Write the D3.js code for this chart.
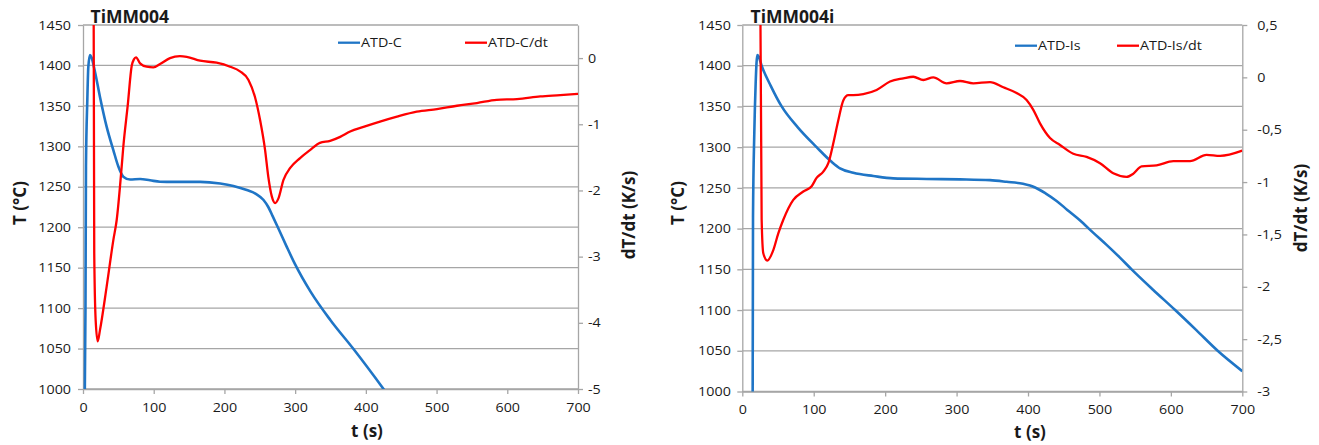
<!DOCTYPE html>
<html><head><meta charset="utf-8">
<script src="https://cdn.jsdelivr.net/npm/d3@7"></script>
<style>body{margin:0;background:#fff}svg{display:block}text{font-family:"Open Sans",sans-serif}</style>
</head><body><svg id="c" width="1319" height="445"></svg>
<script>
// ---- tick values ----
const timeTicks = [0, 100, 200, 300, 400, 500, 600, 700];
const tempTicks = [1000, 1050, 1100, 1150, 1200, 1250, 1300, 1350, 1400, 1450];
const rateTicksC = [-5, -4, -3, -2, -1, 0];
const rateTicksIs = [-3, -2.5, -2, -1.5, -1, -0.5, 0, 0.5];

// ---- chart titles and series names ----
const chartTitles = ["TiMM004", "TiMM004i"];
const seriesC = ["ATD-C", "ATD-C/dt"];
const seriesIs = ["ATD-Is", "ATD-Is/dt"];

// ---- TiMM004 : ATD-C temperature (°C) ----
const timeC = [2.5, 3.5, 4.2, 6.1, 7.5, 9.9, 12, 17, 24, 33.5, 43, 50, 57, 66.5, 80.7, 94.8, 109, 128, 165.6, 194, 212.7, 231.6, 245, 255, 262, 268, 276, 288, 300, 322, 350, 382, 425, 435];
const tempC = [990, 1100, 1275, 1357, 1398, 1413, 1410, 1392, 1361, 1324, 1295, 1275, 1262.5, 1259, 1259.6, 1258, 1256.3, 1256, 1256, 1254, 1251, 1246, 1241, 1234, 1225, 1214, 1199, 1176, 1154, 1120, 1085, 1050, 1000, 988];

// ---- TiMM004 : ATD-C/dt (K/s) ----
const timeCdt = [15, 15.9, 17.9, 20.8, 24, 33.5, 42.9, 47.6, 54.7, 57, 63.2, 68.9, 72, 75, 80.7, 90, 99.5, 109, 123, 137, 146.7, 165.6, 189, 208, 222, 234, 243, 250.5, 257.5, 262, 267, 271.7, 276.4, 283.5, 293, 307, 321, 335, 349.5, 363.7, 377.8, 396.7, 420, 444, 472, 500.5, 528.8, 557, 585, 613.7, 646.7, 675, 700];
const rateCdt = [1.0, -2.95, -3.96, -4.28, -4.11, -3.45, -2.75, -2.45, -1.64, -1.34, -0.72, -0.115, -0.02, 0.01, -0.08, -0.13, -0.14, -0.09, 0, 0.03, 0.02, -0.04, -0.07, -0.13, -0.2, -0.33, -0.58, -0.94, -1.39, -1.79, -2.09, -2.19, -2.12, -1.84, -1.66, -1.51, -1.39, -1.28, -1.25, -1.19, -1.11, -1.04, -0.96, -0.885, -0.81, -0.77, -0.72, -0.68, -0.63, -0.62, -0.58, -0.56, -0.54];

// ---- TiMM004i : ATD-Is temperature (°C) ----
const timeIs = [14.5, 15, 16.8, 18.7, 21, 23, 27.1, 40, 55.1, 78, 104, 125, 136.8, 155.4, 183.4, 211.4, 258, 304.8, 346.8, 370, 393, 410, 425, 440, 455, 473, 490, 510, 528, 545, 575, 606, 636, 665.5, 700];
const tempIs = [990, 1215, 1317, 1378, 1413, 1411, 1400, 1375, 1350, 1324, 1300, 1282, 1274, 1268.6, 1264.6, 1261.7, 1261, 1260.5, 1259.5, 1257.5, 1255, 1250.5, 1243, 1234, 1223, 1210, 1196, 1180, 1165, 1150, 1125, 1100, 1075, 1050, 1025];

// ---- TiMM004i : ATD-Is/dt (K/s) ----
const timeIsdt = [25, 27.1, 29.4, 35, 43.4, 50.4, 57.4, 71.4, 85.4, 97.1, 104, 113.4, 120.4, 127.4, 134.4, 141.4, 148.4, 155.4, 169.4, 188, 206.8, 225.4, 239.4, 253.4, 267.4, 286, 304.8, 323.4, 346.8, 365.4, 384, 398, 407.4, 416.8, 430.8, 444.8, 463.4, 482, 500.8, 519.4, 538, 547.4, 559, 580, 603.4, 626.8, 650, 668.8, 700];
const rateIsdt = [1.0, -1.36, -1.68, -1.75, -1.65, -1.49, -1.36, -1.17, -1.09, -1.04, -0.96, -0.90, -0.82, -0.63, -0.41, -0.22, -0.17, -0.17, -0.16, -0.12, -0.04, -0.01, 0.006, -0.025, 0, -0.057, -0.035, -0.057, -0.045, -0.095, -0.15, -0.216, -0.31, -0.44, -0.58, -0.646, -0.73, -0.76, -0.82, -0.916, -0.95, -0.92, -0.85, -0.84, -0.80, -0.80, -0.74, -0.75, -0.70];

const BLUE = "#1f75c6", RED = "#ff0000", GRID = "#a6a6a6", TXT = "#1a1a1a";
const SX = 1.1; // horizontal stretch of regular text in the reference
const svg = d3.select("#c");
const defs = svg.append("defs");

function styleAxis(ax) {
  ax.select(".domain").attr("stroke", GRID).attr("stroke-width", 1.3);
  ax.selectAll(".tick line").attr("stroke", GRID).attr("stroke-width", 1.3);
  ax.selectAll("text").attr("font-size", 13).attr("fill", TXT)
    .attr("font-family", "Open Sans").attr("transform", `scale(${SX},1)`);
}

function drawChart(o) {
  const x = d3.scaleLinear([0, 700], [o.left, o.right]);
  const y = d3.scaleLinear([1000, 1450], [o.bottom, o.top]);
  const y2 = d3.scaleLinear(o.rateDomain, [o.bottom, o.top]);
  const g = svg.append("g");

  g.append("g").selectAll("line").data(tempTicks).join("line")
    .attr("x1", o.left).attr("x2", o.right)
    .attr("y1", d => y(d)).attr("y2", d => y(d))
    .attr("stroke", GRID).attr("stroke-width", 1.3);

  const axL = g.append("g").attr("transform", `translate(${o.left},0)`)
    .call(d3.axisLeft(y).tickValues(tempTicks).tickSize(5).tickSizeOuter(0).tickFormat(d => String(d)));
  styleAxis(axL);
  axL.selectAll("text").attr("x", -o.leftPad / SX);

  const axR = g.append("g").attr("transform", `translate(${o.right},0)`)
    .call(d3.axisRight(y2).tickValues(o.rateTicks).tickSize(5).tickSizeOuter(0).tickFormat(o.rateFormat));
  styleAxis(axR);
  axR.selectAll("text").attr("x", o.rightPad / SX);

  const axB = g.append("g").attr("transform", `translate(0,${o.bottom})`)
    .call(d3.axisBottom(x).tickValues(timeTicks).tickSize(5).tickSizeOuter(0).tickFormat(d => String(d)));
  styleAxis(axB);
  axB.selectAll("text").attr("y", o.bottomPad).attr("dy", "0.71em");

  const cid = "clip" + o.id;
  defs.append("clipPath").attr("id", cid).append("rect")
    .attr("x", o.left).attr("y", o.top).attr("width", o.right - o.left).attr("height", o.bottom - o.top);

  const lineT = d3.line().x(d => x(d[0])).y(d => y(d[1])).curve(d3.curveMonotoneX);
  const lineR = d3.line().x(d => x(d[0])).y(d => y2(d[1])).curve(d3.curveMonotoneX);
  const plot = g.append("g").attr("clip-path", `url(#${cid})`);
  plot.append("path").datum(d3.zip(o.tT, o.vT)).attr("d", lineT)
    .attr("fill", "none").attr("stroke", BLUE).attr("stroke-width", 2.6).attr("stroke-linejoin", "round");
  plot.append("path").datum(d3.zip(o.tR, o.vR)).attr("d", lineR)
    .attr("fill", "none").attr("stroke", RED).attr("stroke-width", 2.3).attr("stroke-linejoin", "round");

  // legend
  const lg = g.append("g");
  [[o.legend[0], BLUE, o.names[0]], [o.legend[1], RED, o.names[1]]].forEach(([lx, col, name]) => {
    lg.append("line").attr("x1", lx).attr("x2", lx + 22).attr("y1", o.legendY).attr("y2", o.legendY)
      .attr("stroke", col).attr("stroke-width", 2.3);
    lg.append("text").attr("transform", `translate(${lx + 23},${o.legendY + 4.6}) scale(${SX},1)`)
      .attr("font-size", 13).attr("fill", TXT).text(name);
  });

  // title
  g.append("text").attr("x", o.titleX).attr("y", 22.8).attr("font-size", 17.5).attr("font-weight", 700)
    .attr("fill", TXT).text(o.title);

  // axis titles
  g.append("text").attr("transform", `translate(${o.yTitleX},203) rotate(-90)`).attr("text-anchor", "middle")
    .attr("font-size", 17).attr("font-weight", 700).attr("fill", TXT).text("T (°C)");
  g.append("text").attr("transform", `translate(${o.y2TitleX},${o.y2TitleY}) rotate(-90)`).attr("text-anchor", "middle")
    .attr("font-size", 17).attr("font-weight", 700).attr("fill", TXT).text("dT/dt (K/s)");
  g.append("text").attr("x", o.xTitleX).attr("y", o.xTitleY).attr("text-anchor", "middle")
    .attr("font-size", 17).attr("font-weight", 700).attr("fill", TXT).text("t (s)");
}

const plainFmt = d => String(d);
const commaFmt = d => String(d).replace(".", ",");

drawChart({
  id: "A", left: 83, right: 578, top: 25, bottom: 389,
  rateDomain: [-5, 0.5], rateTicks: rateTicksC, rateFormat: plainFmt,
  leftPad: 12, rightPad: 10, bottomPad: 13.5,
  tT: timeC, vT: tempC, tR: timeCdt, vR: rateCdt,
  names: seriesC, legend: [338, 465], legendY: 42.7,
  title: chartTitles[0], titleX: 90.5,
  yTitleX: 26, y2TitleX: 634.5, y2TitleY: 215, xTitleX: 367, xTitleY: 436.6
});
drawChart({
  id: "B", left: 742.3, right: 1242.3, top: 25, bottom: 391.5,
  rateDomain: [-3, 0.5], rateTicks: rateTicksIs, rateFormat: commaFmt,
  leftPad: 11.5, rightPad: 15, bottomPad: 13,
  tT: timeIs, vT: tempIs, tR: timeIsdt, vR: rateIsdt,
  names: seriesIs, legend: [1015, 1117], legendY: 45.7,
  title: chartTitles[1], titleX: 750.5,
  yTitleX: 683.6, y2TitleX: 1306.6, y2TitleY: 208, xTitleX: 1030, xTitleY: 438.3
});
</script>
</body></html>
